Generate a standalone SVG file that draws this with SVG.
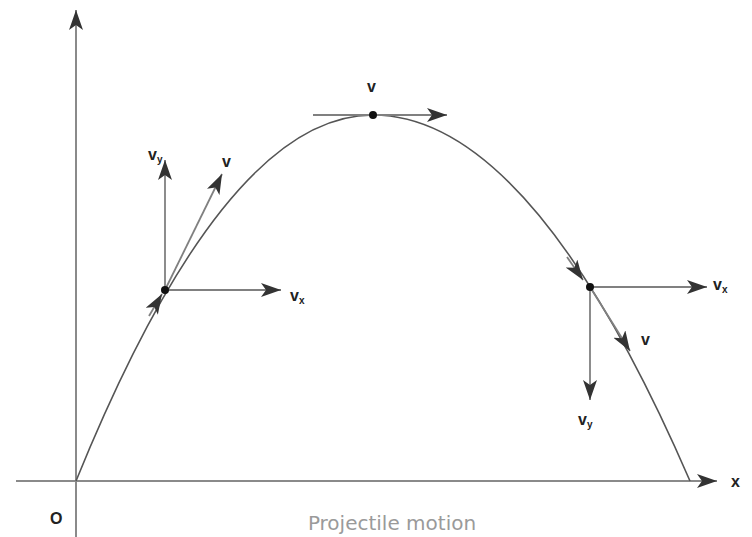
<svg xmlns="http://www.w3.org/2000/svg" width="752" height="537" viewBox="0 0 752 537">
<style>
.axis{stroke:#8a8a8a;stroke-width:2;fill:none}
.curve{stroke:#555;stroke-width:1.6;fill:none}
.vec{stroke:#808080;stroke-width:1.8;fill:none;marker-end:url(#ah)}
.lbl{font-family:"Liberation Sans",Arial,sans-serif;font-weight:bold;font-size:16px;fill:#222}
.sub{font-size:10px}
.cap{font-family:"DejaVu Sans","Liberation Sans",sans-serif;font-size:20px;fill:#9a9a9a}
</style>
<defs>
<marker id="ah" markerUnits="userSpaceOnUse" markerWidth="22" markerHeight="14" refX="20" refY="7" orient="auto">
<path d="M0,0 L20,7 L0,14 L5,7 Z" fill="#333"/>
</marker>
</defs>
<rect width="752" height="537" fill="#fff"/>
<g id="axes">
<line class="axis" x1="76" y1="537" x2="76" y2="10" marker-end="url(#ah)"/>
<line class="axis" x1="16" y1="481" x2="717" y2="481" marker-end="url(#ah)"/>
<text class="lbl" x="731" y="487">x</text>
<text class="lbl" x="50" y="524" font-size="18">O</text>
</g>
<g id="trajectory">
<path class="curve" d="M76,481 Q224.5,115 373,115 Q531.5,115 690,481"/>
</g>
<g id="connectors">
<line class="vec" x1="165" y1="290" x2="281" y2="290"/>
<line class="vec" x1="165" y1="290" x2="165" y2="160"/>
<line class="vec" x1="165" y1="290" x2="222" y2="174"/>
<path class="vec" d="M149,316 L162,294"/>
<line class="vec" x1="313" y1="115" x2="447" y2="115"/>
<line class="vec" x1="590" y1="287" x2="707" y2="287"/>
<line class="vec" x1="590" y1="287" x2="590" y2="400"/>
<line class="vec" x1="590" y1="287" x2="630" y2="351"/>
<path class="vec" d="M567,257 L583,280"/>
</g>
<g id="point-left">
<circle cx="165" cy="290" r="4" fill="#111"/>
<text class="lbl" x="148" y="160">v<tspan class="sub" dy="3">y</tspan></text>
<text class="lbl" x="222" y="167">v</text>
<text class="lbl" x="290" y="301">v<tspan class="sub" dy="3">x</tspan></text>
</g>
<g id="point-top">
<circle cx="373" cy="115" r="4" fill="#111"/>
<text class="lbl" x="367" y="92">v</text>
</g>
<g id="point-right">
<circle cx="590" cy="287" r="4" fill="#111"/>
<text class="lbl" x="713" y="290">v<tspan class="sub" dy="3">x</tspan></text>
<text class="lbl" x="641" y="345">v</text>
<text class="lbl" x="578" y="425">v<tspan class="sub" dy="3">y</tspan></text>
</g>
<g id="caption">
<text class="cap" x="392" y="530" text-anchor="middle">Projectile motion</text>
</g>
</svg>
